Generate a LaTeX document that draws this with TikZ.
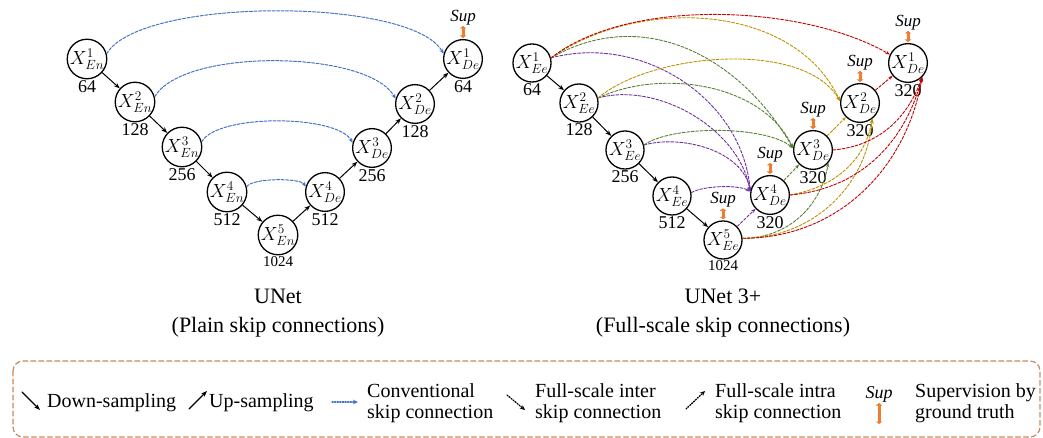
\RequirePackage{fix-cm}
\documentclass[tikz,border=0pt]{standalone}
\usepackage{fontspec}
\setmainfont{Liberation Serif}
\usepackage{tikz}
\usetikzlibrary{arrows.meta,positioning}
\definecolor{skipblue}{RGB}{68,114,196}
\definecolor{suporange}{RGB}{237,125,49}
\definecolor{fspurple}{RGB}{112,48,160}
\definecolor{fsgreen}{RGB}{84,130,53}
\definecolor{fsgold}{RGB}{191,144,0}
\definecolor{fsred}{RGB}{192,0,0}
\definecolor{boxbrown}{RGB}{197,140,96}

\begin{document}
\begin{tikzpicture}[line cap=round,line join=round,x=1pt,y=1pt,
  blk/.style={circle,draw,line width=1.3pt,minimum size=38pt,inner sep=0pt,font=\fontsize{19}{21}\selectfont},
  num/.style={font=\fontsize{18}{20}\selectfont,inner sep=0pt},
  suplbl/.style={font=\fontsize{17}{19}\selectfont\itshape,inner sep=0pt},
  suparr/.style={draw=suporange,line width=3pt,line cap=butt,{Triangle[length=2.5pt,width=6.5pt]}-{Triangle[length=2.5pt,width=6.5pt]},shorten <=1pt,shorten >=1pt},
  down/.style={line width=1pt,-{Stealth[length=6pt,width=4.5pt]}},
  skip/.style={skipblue,line width=1pt,dash pattern=on 3pt off 1.5pt,-{Stealth[length=5pt,width=4pt]}},
  fs/.style={line width=0.9pt,dash pattern=on 3pt off 1.5pt,-{Stealth[length=4.5pt,width=3.5pt]}},
  dots/.style={line width=1.3pt,dash pattern=on 1.2pt off 1.4pt,-{Stealth[length=5pt,width=4.5pt]}},
  ttl/.style={font=\fontsize{22}{26}\selectfont},
  lgd/.style={font=\fontsize{20}{21}\selectfont,anchor=west,align=left,inner sep=0pt}]
\useasboundingbox (0,0) rectangle (1043,-438);
\node[blk] (en1) at (87,-59) {$X^{1}_{En}$};
\node[blk] (en2) at (135,-102) {$X^{2}_{En}$};
\node[blk] (en3) at (182,-147) {$X^{3}_{En}$};
\node[blk] (en4) at (227,-192) {$X^{4}_{En}$};
\node[blk] (en5) at (278,-235) {$X^{5}_{En}$};
\node[blk] (de4) at (325,-192) {$X^{4}_{De}$};
\node[blk] (de3) at (372,-148) {$X^{3}_{De}$};
\node[blk] (de2) at (415,-104) {$X^{2}_{De}$};
\node[blk] (de1) at (463,-59) {$X^{1}_{De}$};
\node[num,below=1pt of en1] (en1n) {64};
\node[num,below=1pt of en2] (en2n) {128};
\node[num,below=1pt of en3] (en3n) {256};
\node[num,below=1pt of en4] (en4n) {512};
\node[num,below=1pt of en5,font=\fontsize{15}{17}\selectfont] (en5n) {1024};
\node[num,below=1pt of de4] (de4n) {512};
\node[num,below=1pt of de3] (de3n) {256};
\node[num,below=1pt of de2] (de2n) {128};
\node[num,below=1pt of de1] (de1n) {64};
\node[suplbl,above=14pt of de1] (sup0) {Sup};
\draw[suparr] (sup0) -- (de1);
\draw[down] (en1) -- (en2);
\draw[down] (en2) -- (en3);
\draw[down] (en3) -- (en4);
\draw[down] (en4) -- (en5);
\draw[down] (en5) -- (de4);
\draw[down] (de4) -- (de3);
\draw[down] (de3) -- (de2);
\draw[down] (de2) -- (de1);
\draw[skip] (en1.15) to[out=60,in=120,looseness=0.5] (de1.165);
\draw[skip] (en2.15) to[out=60,in=120,looseness=0.6] (de2.165);
\draw[skip] (en3.15) to[out=60,in=120,looseness=0.55] (de3.165);
\draw[skip] (en4.15) to[out=60,in=120,looseness=0.45] (de4.165);
\node[ttl] (unet) at (278,-296) {UNet};
\node[ttl] (unetsub) at (278,-327) {(Plain skip connections)};

\node[blk] (ee1) at (532,-63) {$X^{1}_{Ee}$};
\node[blk] (ee2) at (579,-103) {$X^{2}_{Ee}$};
\node[blk] (ee3) at (625,-150) {$X^{3}_{Ee}$};
\node[blk] (ee4) at (672,-196) {$X^{4}_{Ee}$};
\node[blk] (ee5) at (723,-240) {$X^{5}_{Ee}$};
\node[blk] (dd4) at (770,-195) {$X^{4}_{De}$};
\node[blk] (dd3) at (813,-150) {$X^{3}_{De}$};
\node[blk] (dd2) at (860,-103) {$X^{2}_{De}$};
\node[blk] (dd1) at (908,-63) {$X^{1}_{De}$};
\node[num,below=1pt of ee1] (ee1n) {64};
\node[num,below=1pt of ee2] (ee2n) {128};
\node[num,below=1pt of ee3] (ee3n) {256};
\node[num,below=1pt of ee4] (ee4n) {512};
\node[num,below=1pt of ee5,font=\fontsize{15}{17}\selectfont] (ee5n) {1024};
\node[num,below=1pt of dd4] (dd4n) {320};
\node[num,below=1pt of dd3] (dd3n) {320};
\node[num,below=1pt of dd2] (dd2n) {320};
\node[num,below=1pt of dd1] (dd1n) {320};
\node[suplbl,above=13pt of dd1] (sup1) {Sup};
\node[suplbl,above=13pt of dd2] (sup2) {Sup};
\node[suplbl,above=13pt of dd3] (sup3) {Sup};
\node[suplbl,above=13pt of dd4] (sup4) {Sup};
\node[suplbl,above=13pt of ee5] (sup5) {Sup};
\draw[suparr] (sup1) -- (dd1);
\draw[suparr] (sup2) -- (dd2);
\draw[suparr] (sup3) -- (dd3);
\draw[suparr] (sup4) -- (dd4);
\draw[suparr] (sup5) -- (ee5);
\draw[down] (ee1) -- (ee2);
\draw[down] (ee2) -- (ee3);
\draw[down] (ee3) -- (ee4);
\draw[down] (ee4) -- (ee5);
\draw[fs,fspurple] (ee1.15) to[out=15,in=95,looseness=1] (dd4.170);
\draw[fs,fspurple] (ee2.15) to[out=15,in=100,looseness=0.9] (dd4.170);
\draw[fs,fspurple] (ee3.15) to[out=15,in=100,looseness=0.9] (dd4.170);
\draw[fs,fspurple] (ee4.10) to[out=30,in=150,looseness=0.6] (dd4.170);
\draw[fs,fspurple] (ee5) -- (dd4);
\draw[fs,fsgreen] (ee1.15) to[out=30,in=120,looseness=1.05] (dd3.175);
\draw[fs,fsgreen] (ee2.15) to[out=25,in=115,looseness=0.9] (dd3.175);
\draw[fs,fsgreen] (ee3.15) to[out=35,in=140,looseness=0.6] (dd3.175);
\draw[fs,fsgreen] (dd4) -- (dd3);
\draw[fs,fsgreen] (ee5.5) to[out=0,in=-100] (dd3.-40);
\draw[fs,fsgold] (ee1.15) to[out=35,in=115,looseness=0.95] (dd2.175);
\draw[fs,fsgold] (ee2.15) to[out=40,in=120,looseness=0.75] (dd2.175);
\draw[fs,fsgold] (dd3) -- (dd2);
\draw[fs,fsgold] (dd4.0) to[out=10,in=-100] (dd2.-52);
\draw[fs,fsgold] (ee5.5) to[out=0,in=-95] (dd2.-52);
\draw[fs,fsred] (ee1.15) to[out=38,in=150,looseness=0.75] (dd1.155);
\draw[fs,fsred] (dd2) -- (dd1);
\draw[fs,fsred] (dd3.0) to[out=5,in=-110] (dd1.-45);
\draw[fs,fsred] (dd4.0) to[out=5,in=-105] (dd1.-45);
\draw[fs,fsred] (ee5.5) to[out=0,in=-100] (dd1.-45);
\node[ttl] (unet3) at (723,-296) {UNet 3+};
\node[ttl] (unet3sub) at (723,-327) {(Full-scale skip connections)};

\draw[boxbrown,line width=1.2pt,dash pattern=on 5pt off 3pt,rounded corners=10pt] (13,-361) rectangle (1040,-437);
\coordinate (dn1) at (22,-392);
\coordinate (dn2) at (40,-410);
\draw[down,line width=1.3pt] (dn1) -- (dn2);
\node[lgd] (dntxt) at (47,-403) {Down-sampling};
\coordinate (up1) at (189,-409);
\coordinate (up2) at (207,-391);
\draw[down,line width=1.3pt] (up1) -- (up2);
\node[lgd] (uptxt) at (209,-403) {Up-sampling};
\coordinate (cv1) at (332,-402);
\coordinate (cv2) at (358,-402);
\draw[dots,skipblue] (cv1) -- (cv2);
\node[lgd] (cvtxt) at (367,-403) {Conventional\\skip connection};
\coordinate (ir1) at (507,-395);
\coordinate (ir2) at (525,-410);
\draw[dots] (ir1) -- (ir2);
\node[lgd] (irtxt) at (535,-403) {Full-scale inter\\skip connection};
\coordinate (ia1) at (686,-409);
\coordinate (ia2) at (705,-391);
\draw[dots] (ia1) -- (ia2);
\node[lgd] (iatxt) at (715,-403) {Full-scale intra\\skip connection};
\node[suplbl,font=\fontsize{18}{20}\selectfont\itshape] (lsup) at (879,-394) {Sup};
\coordinate (lsupend) at (879,-425);
\draw[suparr] (lsup) -- (lsupend);
\node[lgd] (suptxt) at (915,-403) {Supervision by\\ground truth};
\end{tikzpicture}
\end{document}
